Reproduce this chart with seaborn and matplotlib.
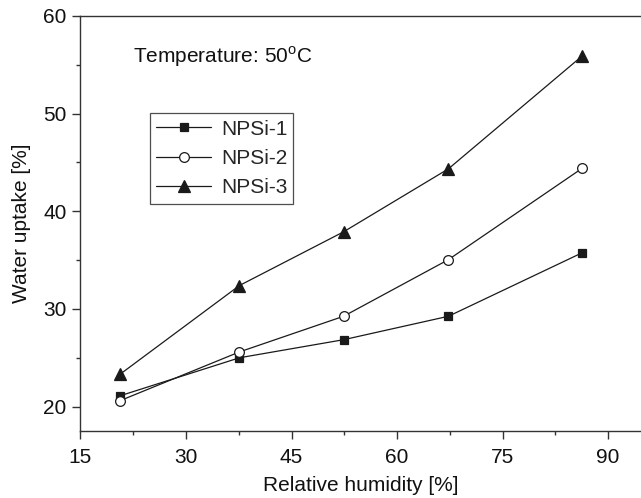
import numpy as np
import pandas as pd
import matplotlib
matplotlib.use("Agg")
import matplotlib.pyplot as plt
import seaborn as sns
from matplotlib.ticker import MultipleLocator

humidity = [20.6, 37.6, 52.4, 67.3, 86.3]
npsi1 = [21.1, 25.0, 26.85, 29.25, 35.75]
npsi2 = [20.6, 25.6, 29.25, 35.05, 44.4]
npsi3 = [23.3, 32.4, 37.9, 44.35, 55.9]
series_names = ["NPSi-1", "NPSi-2", "NPSi-3"]
annotation = "Temperature: 50$^{\\mathregular{o}}$C"
xlabel = "Relative humidity [%]"
ylabel = "Water uptake [%]"

sns.set_theme(style="ticks")
plt.rcParams["font.family"] = ["Liberation Sans", "DejaVu Sans"]
plt.rcParams["mathtext.fontset"] = "custom"
plt.rcParams["mathtext.rm"] = "Liberation Sans"

df = pd.DataFrame({
    "x": humidity * 3,
    "y": npsi1 + npsi2 + npsi3,
    "series": sum([[n] * len(humidity) for n in series_names], []),
})

fig = plt.figure(figsize=(6.41, 4.98), dpi=100)
ax = fig.add_axes([80.5 / 641, 1 - 431 / 498, 1 - 80.5 / 641, (431 - 16) / 498])

line_col = "#1a1a1a"
styles = {
    "NPSi-1": dict(marker="s", markersize=5.8, markerfacecolor=line_col),
    "NPSi-2": dict(marker="o", markersize=7.0, markerfacecolor="white"),
    "NPSi-3": dict(marker="^", markersize=8.4, markerfacecolor=line_col),
}
for name in series_names:
    sub = df[df["series"] == name]
    sns.lineplot(data=sub, x="x", y="y", ax=ax, color=line_col, linewidth=0.9,
                 markeredgecolor=line_col, markeredgewidth=0.9, label=name,
                 **styles[name])

ax.set_xlim(15, 94.67)
ax.set_ylim(17.5, 60)
ax.xaxis.set_major_locator(MultipleLocator(15))
ax.xaxis.set_minor_locator(MultipleLocator(7.5))
ax.yaxis.set_major_locator(MultipleLocator(10))
ax.yaxis.set_minor_locator(MultipleLocator(5))

spine_col = "#333333"
for s in ["left", "bottom", "top"]:
    ax.spines[s].set_color(spine_col)
    ax.spines[s].set_linewidth(1.0)
ax.spines["right"].set_visible(False)
ax.tick_params(which="major", direction="out", length=5.5, width=1.0, color=spine_col,
               labelsize=15, labelcolor="#111111", pad=4.5)
ax.tick_params(which="minor", direction="out", length=3.2, width=1.0, color=spine_col)
ax.tick_params(axis="x", which="major", pad=7)

ax.set_xlabel(xlabel, fontsize=15, color="#111111", labelpad=6)
ax.set_ylabel(ylabel, fontsize=15, color="#111111", labelpad=9)

ax.text((133 - 80.5) / 560.5, 1 - (56.7 - 16) / 415, annotation, transform=ax.transAxes,
        fontsize=15, color="#111111", va="center", ha="left")

leg = ax.legend(loc="upper left", bbox_to_anchor=((150 - 80.5) / 560.5, 1 - (113.3 - 16) / 415),
                frameon=True, fancybox=False, edgecolor="#222222", fontsize=15,
                handlelength=2.65, handletextpad=0.45, borderpad=0.3, labelspacing=0.5,
                borderaxespad=0)
leg.get_frame().set_linewidth(0.9)

fig.savefig("out.png", dpi=100)
